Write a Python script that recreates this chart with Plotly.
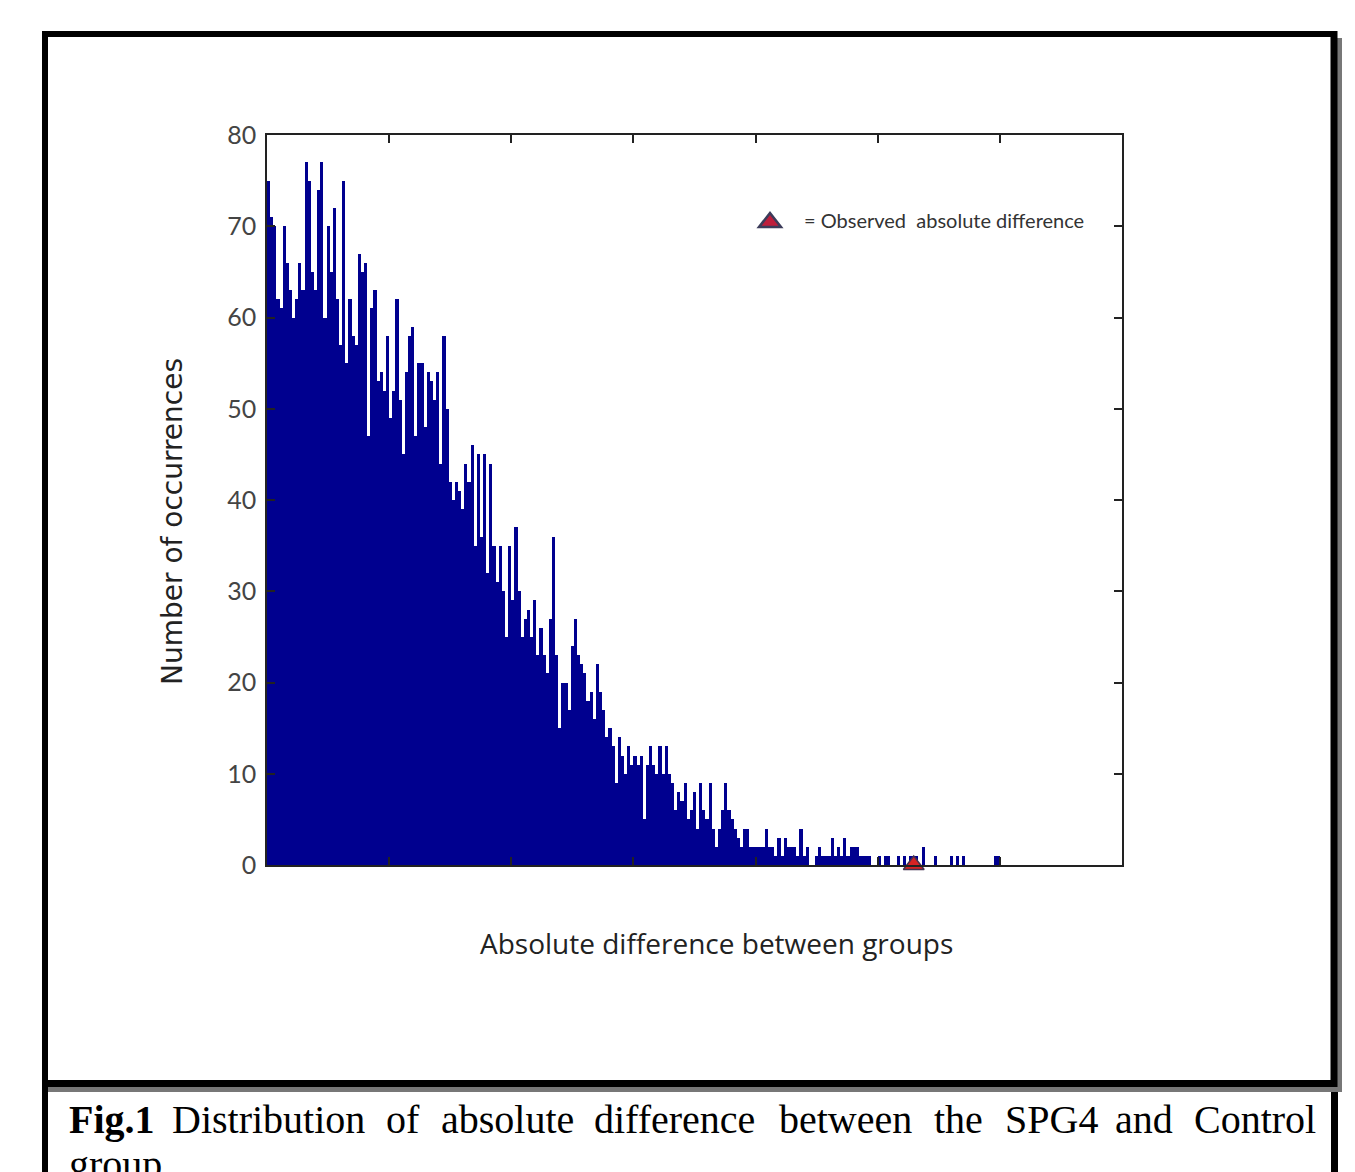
import numpy as np
import plotly.graph_objects as go

# ---------------- data ----------------
# Histogram counts per bin, left to right (bins run from 0 to 6 on the x axis)
counts_a = [75, 71, 70, 62, 61, 70, 66, 63, 60, 62, 66, 63, 77, 75, 65, 63, 74, 77, 60, 70,
            65, 72, 62, 57, 75, 55, 62, 58, 57, 67, 65, 66, 47, 61, 63, 53, 54, 52, 58, 49,
            52, 62, 51, 45, 54, 58, 59, 47, 55, 55, 48, 54, 53, 51, 54, 44, 58, 50, 42, 40,
            42, 41, 39, 44, 42]
counts_b = [46, 35, 45, 36, 45, 32, 44, 35, 31, 35, 30, 25, 35, 29, 37, 30, 25, 27, 28, 25,
            29, 23, 26, 23, 21, 27]
counts_c = [36, 23, 15, 20, 20, 17, 24, 27, 23, 22, 21, 18, 19, 16, 22, 19, 17, 14, 15, 13,
            9, 14, 12, 10, 13, 11, 12, 11, 12, 5, 11, 13, 11, 10, 13, 10, 13, 10, 9, 6,
            8, 7, 9, 5, 6, 8, 4, 9, 6, 5, 9, 4, 2, 4, 6, 9, 6, 5, 4, 3,
            2, 4, 4, 2, 2, 2]
counts_d = [2, 2, 4, 2, 2, 1, 3, 1, 3, 2, 2, 2, 1, 4, 1, 2, 0, 0, 1, 2,
            1, 1, 1, 3, 1, 2, 1, 3, 1, 2, 2, 2, 1, 1, 1, 1, 0, 0, 1, 0,
            1, 1, 0, 0, 1, 0, 1, 0, 1, 1, 1, 0, 2, 0, 0, 0, 1, 0, 0, 0,
            0, 1, 0, 1, 0, 1, 0, 0, 0, 0, 0, 0, 0, 0, 0, 1, 1]
counts = counts_a + counts_b + counts_c + counts_d

hist_start = 0.0
hist_end = 6.0
observed_value = 5.295          # observed absolute difference (red triangle)

y_ticks = [0, 10, 20, 30, 40, 50, 60, 70, 80]
x_ticks = [0, 1, 2, 3, 4, 5, 6, 7]

x_title = "Absolute difference between groups"
y_title = "Number of occurrences"
legend_label = "= Observed  absolute difference"
caption_words = ["Distribution", "of", "absolute", "difference", "between",
                 "the", "SPG4", "and", "Control"]
caption_bold = "Fig.1"
caption_last = "group"

# ---------------- layout geometry ----------------
W, H = 1355, 1172
PL, PR, PT, PB = 267, 1122, 135, 865   # plot area in page pixels


def px(xp):
    return (xp - PL) / (PR - PL)


def py(yp):
    return (PB - yp) / (PB - PT)


n = len(counts)
bw = (hist_end - hist_start) / n
centers = hist_start + bw * (np.arange(n) + 0.5)

NAVY = "rgb(0,0,143)"
fig = go.Figure()
fig.add_trace(go.Bar(
    x=centers, y=counts, width=bw,
    marker=dict(color=NAVY, line=dict(color="rgb(0,0,70)", width=0)),
    showlegend=False, hoverinfo="skip",
))
fig.add_trace(go.Scatter(
    x=[observed_value], y=[0], mode="markers", name=legend_label,
    marker=dict(symbol="triangle-up", size=18, color="rgb(215,35,35)",
                line=dict(color="rgb(70,50,80)", width=1.5)),
    cliponaxis=False, showlegend=False,
))

axis_common = dict(showline=True, mirror="ticks", linecolor="#222", linewidth=1.5,
                   ticks="inside", ticklen=8, tickcolor="#222", tickwidth=1.5,
                   showgrid=False, zeroline=False)
fig.update_xaxes(range=[0, 7], tickvals=x_ticks, showticklabels=False, **axis_common)
fig.update_yaxes(range=[0, 80], tickvals=y_ticks, ticklabelstandoff=4,
                 tickfont=dict(family="Lato", size=25, color="#444"), **axis_common)

fig.update_layout(
    width=W, height=H,
    margin=dict(l=PL, r=W - PR, t=PT, b=H - PB, pad=0),
    paper_bgcolor="white", plot_bgcolor="white",
    bargap=0, showlegend=False,
)

annotations = [
    dict(text=y_title, x=px(172), y=py(522), xref="paper", yref="paper",
         textangle=-90, showarrow=False, font=dict(family="DejaVu Sans", size=28, color="#222"),
         xanchor="center", yanchor="middle"),
    dict(text=x_title, x=px(716), y=py(943), xref="paper", yref="paper",
         showarrow=False, font=dict(family="Open Sans", size=28, color="#222"),
         xanchor="center", yanchor="middle"),
    dict(text=legend_label, x=px(802), y=py(220), xref="paper", yref="paper",
         showarrow=False, font=dict(family="Lato", size=20, color="#333"),
         xanchor="left", yanchor="middle"),
]

cap_font = dict(family="Liberation Serif", size=40, color="black")
word_left = [170, 384, 439, 592, 777, 932, 1003, 1113, 1192]
cap_y = py(1119)
annotations.append(dict(text="<b>" + caption_bold + "</b>", x=px(67), y=cap_y,
                        xref="paper", yref="paper", showarrow=False, font=cap_font,
                        xanchor="left", yanchor="middle"))
for w, xl in zip(caption_words, word_left):
    annotations.append(dict(text=w, x=px(xl), y=cap_y, xref="paper", yref="paper",
                            showarrow=False, font=cap_font, xanchor="left", yanchor="middle"))
annotations.append(dict(text=caption_last, x=px(67), y=py(1164), xref="paper", yref="paper",
                        showarrow=False, font=cap_font, xanchor="left", yanchor="middle"))
fig.update_layout(annotations=annotations)

# frame lines (figure border, shadow, caption box) and legend key
shapes = []


def line(x0, y0, x1, y1, color, width):
    shapes.append(dict(type="line", xref="paper", yref="paper",
                       x0=px(x0), y0=py(y0), x1=px(x1), y1=py(y1),
                       line=dict(color=color, width=width)))


line(1339.5, 38, 1339.5, 1092, "#777", 5)
line(48, 1089.5, 1342, 1089.5, "#777", 5)
line(42, 34, 1337, 34, "black", 6)
line(45, 31, 45, 1172, "black", 6)
line(1334, 31, 1334, 1087, "black", 7)
line(42, 1083.5, 1337, 1083.5, "black", 7)
line(1334.5, 1092, 1334.5, 1172, "black", 7)

# legend key: triangle drawn in page coordinates
tri = "M {:.5f},{:.5f} L {:.5f},{:.5f} L {:.5f},{:.5f} Z".format(
    px(759), py(227), px(781), py(227), px(770), py(213))
shapes.append(dict(type="path", xref="paper", yref="paper", path=tri,
                   fillcolor="rgb(190,30,60)", line=dict(color="rgb(60,60,90)", width=2.5)))
fig.update_layout(shapes=shapes)

fig.write_html("out.html")
